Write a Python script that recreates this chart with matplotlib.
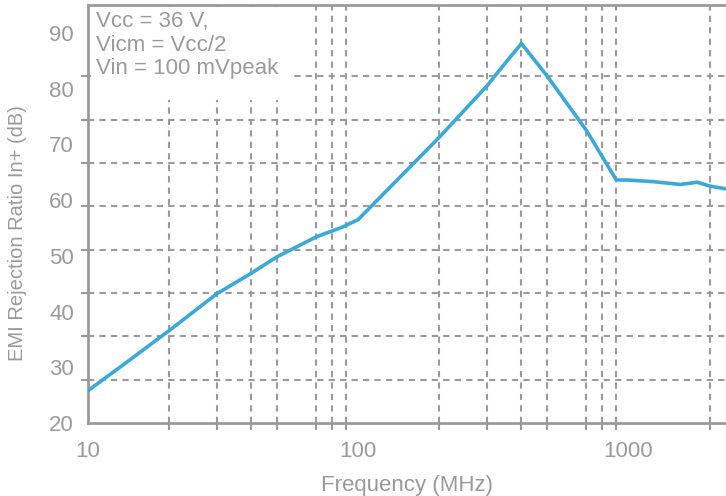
import numpy as np
import matplotlib
matplotlib.use('Agg')
import matplotlib.pyplot as plt
from matplotlib.patches import Rectangle

# curve (MHz, dB)
freq = [10, 13.9, 20, 30, 40, 50, 70, 88, 100, 200, 300, 340, 402, 500, 700, 903, 990, 1240, 1560, 1800, 2010, 2300]
emi = [25.8, 30.9, 36.6, 43.2, 46.8, 49.8, 53.4, 55.2, 56.5, 71.3, 80.5, 83.8, 88.1, 82.3, 72.5, 63.6, 63.6, 63.3, 62.8, 63.2, 62.5, 62.0]

x_labels = [10, 100, 1000]
x_grid = [20, 30, 40, 50, 70, 80, 90, 100, 200, 300, 400, 500, 700, 800, 900, 2000]
y_labels = [20, 30, 40, 50, 60, 70, 80, 90]
y_grid = list(np.linspace(20, 90, 10))

note = 'Vcc = 36 V,\nVicm = Vcc/2\nVin = 100 mVpeak'

gray = '#9a9a9a'
blue = '#39a9dc'
plt.rcParams['font.family'] = ['Liberation Sans', 'DejaVu Sans']

fig = plt.figure(figsize=(7.26, 4.96), dpi=100)
ax = fig.add_axes([88/726, 73/496, 638/726, 418/496])

ax.plot(freq, emi, color=blue, lw=2.6, zorder=3, solid_joinstyle='miter')

ax.set_xscale('log')
ax.set_xlim(10, 2300)
ax.set_ylim(20, 95)

ax.set_xticks(x_labels, [str(v) for v in x_labels])
ax.set_xticks(x_grid, minor=True)
ax.xaxis.set_minor_formatter(matplotlib.ticker.NullFormatter())
ax.set_yticks(y_labels, [str(v) for v in y_labels])
ax.set_yticks(y_grid, minor=True)

ax.tick_params(which='major', length=0, labelsize=16, labelcolor=gray)
ax.tick_params(axis='x', which='major', pad=13)
ax.tick_params(axis='y', which='major', pad=10)
ax.tick_params(which='minor', length=5, width=1.5, color=gray, direction='out')

ax.grid(which='minor', color=gray, lw=1.5, linestyle=(0, (3, 2.5)))
ax.grid(which='major', visible=False)

for s in ['left', 'bottom', 'top']:
    ax.spines[s].set_color(gray)
    ax.spines[s].set_linewidth(2)
ax.spines['right'].set_visible(False)

ax.set_xlabel('Frequency (MHz)', fontsize=16, color=gray, labelpad=9)
fig.text(18/726, 1 - 233/496, 'EMI Rejection Ratio In+ (dB)', rotation=90,
         fontsize=14.5, color=gray, ha='center', va='center')

# white patch behind the note, hides the grid there
ax.add_patch(Rectangle((0.004, 0.773), 0.313, 0.222, transform=ax.transAxes,
                       facecolor='white', edgecolor='none', zorder=2.6))
ax.text(0.012, 0.985, note, transform=ax.transAxes, fontsize=16, color=gray,
        va='top', ha='left', linespacing=1.15, zorder=4)

fig.savefig('out.png', dpi=100)
